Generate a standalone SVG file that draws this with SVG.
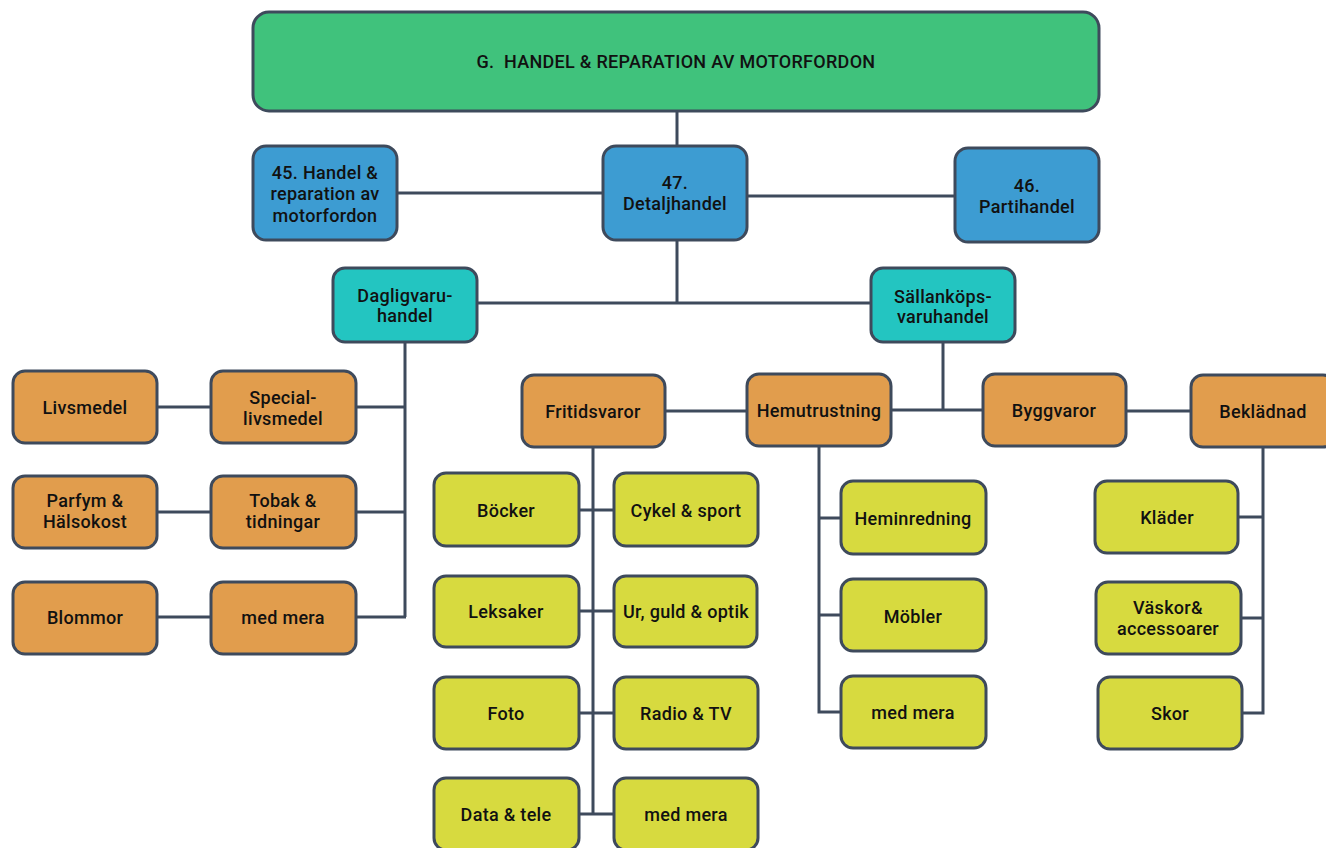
<svg xmlns="http://www.w3.org/2000/svg" width="1326" height="848" viewBox="0 0 1326 848">
<style>
rect{stroke:#3e4a5c;stroke-width:3}
.g{fill:#40c27c}.b{fill:#3d9cd2}.t{fill:#23c5c1}.o{fill:#e19d4d}.y{fill:#d7da3f}
text{font-family:Roboto,"Liberation Sans",sans-serif;font-weight:500;font-size:18px;letter-spacing:0.3px;fill:#111;text-anchor:middle;dominant-baseline:central;white-space:pre}
.c path{fill:none;stroke:#3e4a5c;stroke-width:3}
</style>
<rect width="1326" height="848" fill="#fff" style="stroke:none"/>
<g class="c">
<path d="M677 111V146M397 193H603M747 196H955M677 240V303M477 303H871"/>
<path d="M405 342V617M157 407H211M356 407H406M157 512H211M356 512H406M157 617H211M356 617H406"/>
<path d="M943 342V410M891 410H983M665 411H747M1126 411H1191"/>
<path d="M593 447V814M579 510H614M579 611H614M579 713H614M579 814H614"/>
<path d="M819 446V712H841M819 518H841M819 615H841"/>
<path d="M1263 447V713H1242M1238 517H1263M1241 618H1263"/>
</g>
<g id="n-top"><rect class="g" x="253" y="12" width="846" height="99" rx="16"/><text x="676" y="61">G.  HANDEL &amp; REPARATION AV MOTORFORDON</text></g>
<g id="n-45"><rect class="b" x="253" y="146" width="144" height="94" rx="13"/><text x="325" y="172">45. Handel &amp;</text><text x="325" y="193">reparation av</text><text x="325" y="215">motorfordon</text></g>
<g id="n-47"><rect class="b" x="603" y="146" width="144" height="94" rx="13"/><text x="675" y="182">47.</text><text x="675" y="203">Detaljhandel</text></g>
<g id="n-46"><rect class="b" x="955" y="148" width="144" height="94" rx="13"/><text x="1027" y="185">46.</text><text x="1027" y="206">Partihandel</text></g>
<g id="n-dag"><rect class="t" x="333" y="268" width="144" height="74" rx="12"/><text x="405" y="295">Dagligvaru-</text><text x="405" y="315">handel</text></g>
<g id="n-sal"><rect class="t" x="871" y="268" width="144" height="74" rx="12"/><text x="943" y="296">Sällanköps-</text><text x="943" y="316">varuhandel</text></g>
<g id="n-livs"><rect class="o" x="13" y="371" width="144" height="72" rx="12"/><text x="85" y="407">Livsmedel</text></g>
<g id="n-spec"><rect class="o" x="211" y="371" width="145" height="72" rx="12"/><text x="283" y="397">Special-</text><text x="283" y="418">livsmedel</text></g>
<g id="n-parf"><rect class="o" x="13" y="476" width="144" height="72" rx="12"/><text x="85" y="500">Parfym &amp;</text><text x="85" y="521">Hälsokost</text></g>
<g id="n-tob"><rect class="o" x="211" y="476" width="145" height="72" rx="12"/><text x="283" y="500">Tobak &amp;</text><text x="283" y="521">tidningar</text></g>
<g id="n-blom"><rect class="o" x="13" y="582" width="144" height="72" rx="12"/><text x="85" y="617">Blommor</text></g>
<g id="n-mm1"><rect class="o" x="211" y="582" width="145" height="72" rx="12"/><text x="283" y="617">med mera</text></g>
<g id="n-frit"><rect class="o" x="522" y="375" width="143" height="72" rx="12"/><text x="593" y="411">Fritidsvaror</text></g>
<g id="n-hemu"><rect class="o" x="747" y="374" width="144" height="72" rx="12"/><text x="819" y="410">Hemutrustning</text></g>
<g id="n-bygg"><rect class="o" x="983" y="374" width="143" height="72" rx="12"/><text x="1054" y="410">Byggvaror</text></g>
<g id="n-bekl"><rect class="o" x="1191" y="375" width="144" height="72" rx="12"/><text x="1263" y="411">Beklädnad</text></g>
<g id="n-bock"><rect class="y" x="434" y="473" width="145" height="73" rx="12"/><text x="506" y="510">Böcker</text></g>
<g id="n-cyk"><rect class="y" x="614" y="473" width="144" height="73" rx="12"/><text x="686" y="510">Cykel &amp; sport</text></g>
<g id="n-leks"><rect class="y" x="434" y="576" width="145" height="71" rx="12"/><text x="506" y="611">Leksaker</text></g>
<g id="n-ur"><rect class="y" x="614" y="576" width="143" height="71" rx="12"/><text x="686" y="611">Ur, guld &amp; optik</text></g>
<g id="n-foto"><rect class="y" x="434" y="677" width="145" height="72" rx="12"/><text x="506" y="713">Foto</text></g>
<g id="n-radio"><rect class="y" x="614" y="677" width="144" height="72" rx="12"/><text x="686" y="713">Radio &amp; TV</text></g>
<g id="n-data"><rect class="y" x="434" y="778" width="145" height="72" rx="12"/><text x="506" y="814">Data &amp; tele</text></g>
<g id="n-mm2"><rect class="y" x="614" y="778" width="144" height="72" rx="12"/><text x="686" y="814">med mera</text></g>
<g id="n-hemin"><rect class="y" x="841" y="481" width="145" height="73" rx="12"/><text x="913" y="518">Heminredning</text></g>
<g id="n-mob"><rect class="y" x="841" y="579" width="145" height="72" rx="12"/><text x="913" y="616">Möbler</text></g>
<g id="n-mm3"><rect class="y" x="841" y="676" width="145" height="72" rx="12"/><text x="913" y="712">med mera</text></g>
<g id="n-klad"><rect class="y" x="1095" y="481" width="143" height="72" rx="12"/><text x="1167" y="517">Kläder</text></g>
<g id="n-vask"><rect class="y" x="1096" y="582" width="145" height="72" rx="12"/><text x="1168" y="607">Väskor&amp;</text><text x="1168" y="628">accessoarer</text></g>
<g id="n-skor"><rect class="y" x="1098" y="677" width="144" height="72" rx="12"/><text x="1170" y="713">Skor</text></g>
</svg>
